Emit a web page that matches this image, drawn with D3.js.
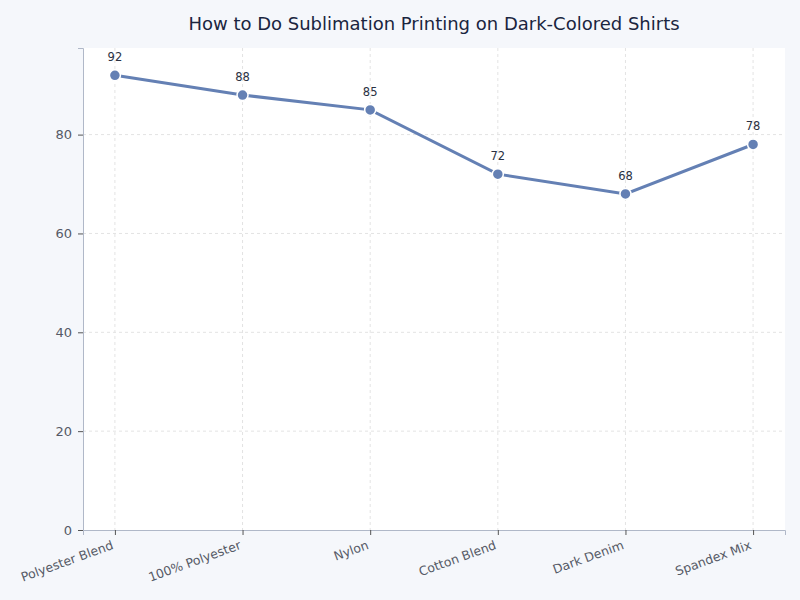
<!DOCTYPE html>
<html lang="en">
<head>
<meta charset="UTF-8">
<title>Sublimation on Dark Shirts</title>
<script src="https://d3js.org/d3.v7.min.js"></script>
<style>
  body { margin: 0; background: #f5f7fb; }
  svg { display: block; }
  svg text { font-family: "DejaVu Sans", sans-serif; }
</style>
</head>
<body>
<script>
// data
const fabrics = ["Polyester Blend", "100% Polyester", "Nylon", "Cotton Blend", "Dark Denim", "Spandex Mix"];
const scores = [92, 88, 85, 72, 68, 78];
const yTicks = [0, 20, 40, 60, 80];

const width = 800, height = 600;
const margin = { top: 48, right: 15, bottom: 70, left: 83 };

const svg = d3.select("body").append("svg")
  .attr("width", width)
  .attr("height", height);

svg.append("rect").attr("width", width).attr("height", height).attr("fill", "#f5f7fb");

const x = d3.scalePoint()
  .domain(fabrics)
  .range([margin.left, width - margin.right])
  .padding(0.25);

const y = d3.scaleLinear()
  .domain([0, d3.max(scores) * 1.06])
  .range([height - margin.bottom, margin.top]);

// plot background
svg.append("rect")
  .attr("x", margin.left)
  .attr("y", margin.top)
  .attr("width", width - margin.left - margin.right)
  .attr("height", height - margin.top - margin.bottom)
  .attr("fill", "#ffffff");

// grid
const grid = svg.append("g");
grid.selectAll("line.h")
  .data(yTicks.filter(d => d > 0))
  .join("line")
  .attr("x1", margin.left).attr("x2", width - margin.right)
  .attr("y1", d => y(d)).attr("y2", d => y(d))
  .attr("stroke", "#e3e3e3").attr("stroke-dasharray", "3,3");
grid.selectAll("line.v")
  .data(fabrics)
  .join("line")
  .attr("x1", d => x(d)).attr("x2", d => x(d))
  .attr("y1", margin.top).attr("y2", height - margin.bottom)
  .attr("stroke", "#e3e3e3").attr("stroke-dasharray", "3,3");

// axes
const xAxis = svg.append("g")
  .attr("transform", `translate(0,${height - margin.bottom})`)
  .call(d3.axisBottom(x).tickSizeOuter(0).tickSize(5));
xAxis.select(".domain").attr("stroke", "#b0b8c8");
xAxis.selectAll(".tick line").attr("stroke", "#555");
xAxis.selectAll(".tick text")
  .attr("fill", "#555a66")
  .attr("font-size", 12.5)
  .attr("text-anchor", "end")
  .attr("dx", "0")
  .attr("dy", "0")
  .attr("transform", "translate(-4,11) rotate(-20)");

const yAxis = svg.append("g")
  .attr("transform", `translate(${margin.left},0)`)
  .call(d3.axisLeft(y).tickValues(yTicks).tickSizeOuter(0).tickSize(5).tickPadding(6));
yAxis.select(".domain").attr("stroke", "#b0b8c8");
yAxis.selectAll(".tick line").attr("stroke", "#555");
yAxis.selectAll(".tick text").attr("fill", "#555a66").attr("font-size", 13);

// line
const line = d3.line()
  .x((d, i) => x(fabrics[i]))
  .y(d => y(d));

svg.append("path")
  .datum(scores)
  .attr("d", line)
  .attr("fill", "none")
  .attr("stroke", "#6480b4")
  .attr("stroke-width", 3);

svg.append("g").selectAll("circle")
  .data(scores)
  .join("circle")
  .attr("cx", (d, i) => x(fabrics[i]))
  .attr("cy", d => y(d))
  .attr("r", 5.5)
  .attr("fill", "#6480b4")
  .attr("stroke", "#ffffff")
  .attr("stroke-width", 1.5);

svg.append("g").selectAll("text")
  .data(scores)
  .join("text")
  .attr("x", (d, i) => x(fabrics[i]))
  .attr("y", d => y(d) - 14)
  .attr("text-anchor", "middle")
  .attr("font-size", 11.5)
  .attr("fill", "#2a3142")
  .text(d => d);

// title
svg.append("text")
  .attr("x", 434)
  .attr("y", 30)
  .attr("text-anchor", "middle")
  .attr("font-size", 18)
  .attr("fill", "#1a2540")
  .text("How to Do Sublimation Printing on Dark-Colored Shirts");
</script>
</body>
</html>
